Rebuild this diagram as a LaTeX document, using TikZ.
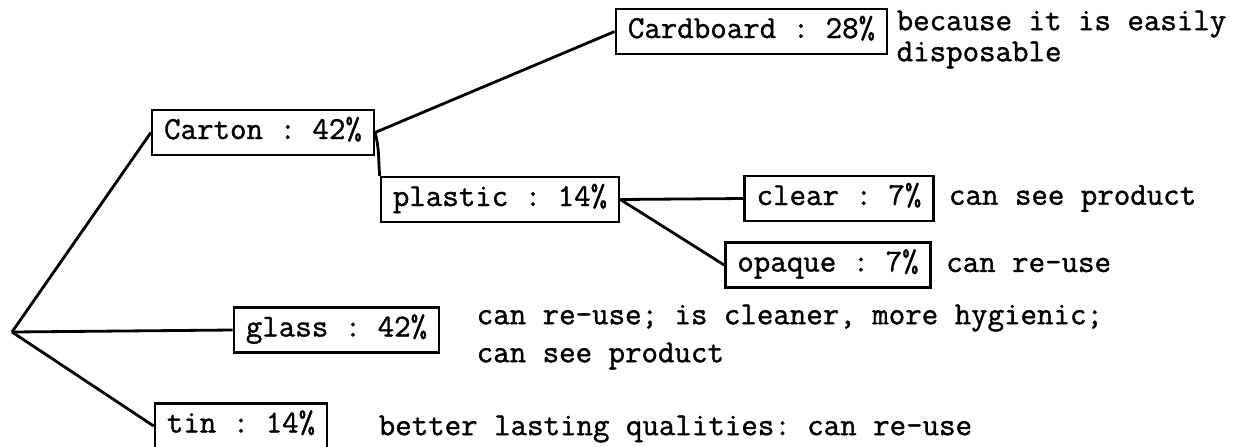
\documentclass[tikz,border=0pt]{standalone}
\usepackage{fontspec}
\setmonofont{Latin Modern Mono}[FakeBold=1.2]
\usepackage{tikz}
\usetikzlibrary{positioning}

\begin{document}
\begin{tikzpicture}[
    x=1pt, y=1pt,
    box/.style={draw, line width=1.2pt, inner xsep=6pt, inner ysep=0pt, minimum height=22.5pt,
                text height=9.5pt, text depth=3pt, font=\ttfamily\fontsize{16}{20}\selectfont},
    note/.style={inner sep=0pt, align=left, font=\ttfamily\fontsize{16}{20}\selectfont},
    link/.style={line width=1.4pt},
]
\useasboundingbox (0,0) rectangle (621,-223);

% Root of the tree
\coordinate (root) at (6,-166);

% Boxes
\node[box] (carton) at (131.5,-66.25) {Carton : 42\%};
\node[box] (cardboard) at (375.75,-15.75) {Cardboard : 28\%};
\node[box] (plastic) at (250,-99.75) {plastic : 14\%};
\node[box] (clear) at (419.5,-99.25) {clear : 7\%};
\node[box] (opaque) at (414,-132.5) {opaque : 7\%};
\node[box] (glass) at (168.25,-165) {glass : 42\%};
\node[box] (tin) at (120.5,-213) {tin : 14\%};

% Reasons
\node[note, right=4pt of cardboard, yshift=-4pt] (cardboardnote) {because it is easily\\[-4.5pt]disposable};
\node[note, right=7pt of clear] (clearnote) {can see product};
\node[note, right=7pt of opaque] (opaquenote) {can re-use};
\node[note, right=18pt of glass, yshift=-3.5pt] (glassnote) {can re-use; is cleaner, more hygienic;\\[-1pt]can see product};
\node[note, right=25pt of tin, yshift=-1.5pt] (tinnote) {better lasting qualities: can re-use};

% Connectors
\draw[link] (root) -- (carton.west);
\draw[link] (root) -- (glass.west);
\draw[link] (root) -- (tin.west);
\draw[link] (carton.east) -- (cardboard.west);
\draw[link] (carton.east) to[out=-75, in=95] (plastic.north west);
\draw[link] (plastic.east) -- (clear.west);
\draw[link] (plastic.east) -- (opaque.west);

\end{tikzpicture}
\end{document}
